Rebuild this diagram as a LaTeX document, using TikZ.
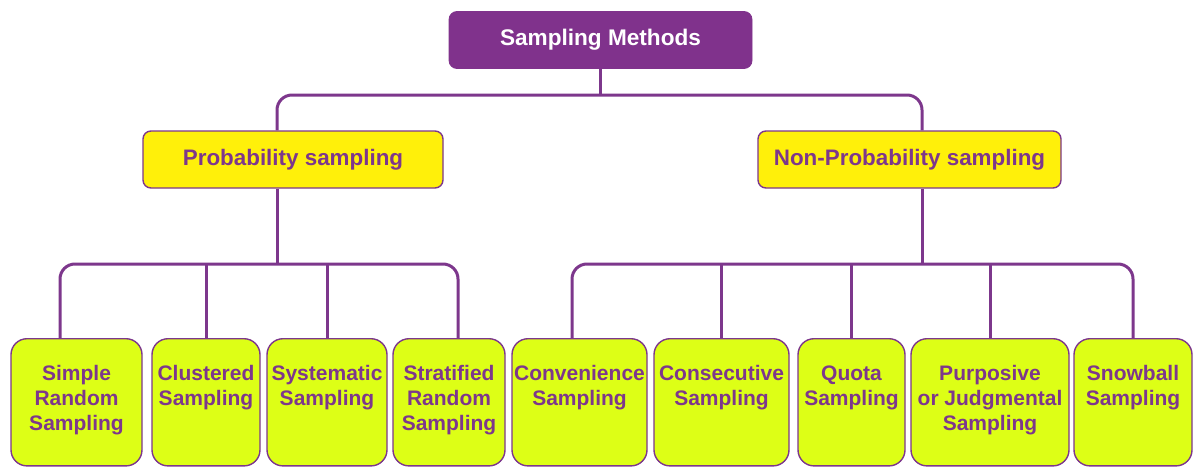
\documentclass[tikz,border=0pt]{standalone}
\usepackage{fontspec}
\setmainfont{Liberation Sans}
\definecolor{plum}{RGB}{128,50,140}
\definecolor{ink}{RGB}{125,55,140}
\definecolor{sun}{RGB}{255,240,10}
\definecolor{lime}{RGB}{221,255,22}
\newcommand{\methtext}[1]{\begin{tabular}[t]{@{}c@{}}#1\end{tabular}}

\begin{document}
\begin{tikzpicture}[x=0.5pt,y=-0.5pt]
\tikzstyle{root}=[draw=plum,fill=plum,rounded corners=4pt,minimum height=28.5pt,text=white,font=\bfseries\fontsize{11.3}{13}\selectfont];
\tikzstyle{kind}=[draw=ink,fill=sun,line width=0.7pt,rounded corners=4pt,minimum height=28.5pt,text=ink,font=\bfseries\fontsize{11.2}{13}\selectfont];
\tikzstyle{meth}=[draw=ink,fill=lime,line width=0.7pt,rounded corners=8pt,anchor=north,inner xsep=0pt,inner ysep=0pt,text height=21pt,text depth=42.6pt,text=ink,font=\bfseries\fontsize{10.5}{12.5}\selectfont];
\tikzstyle{link}=[draw=ink,line width=1.5pt,rounded corners=7.5pt];

\useasboundingbox (0,0) rectangle (1193,466);

\node [root,minimum width=151.5pt] (top) at (600.5,40) {Sampling Methods};

\node [kind,minimum width=150pt] (prob) at (293,159.5) {Probability sampling};
\node [kind,minimum width=151.5pt] (nonp) at (909.5,159.5) {Non-Probability sampling};

\node [meth,minimum width=65.5pt] (srs) at (76.5,338) {\methtext{Simple\\Random\\Sampling}};
\node [meth,minimum width=54pt] (clu) at (206,338) {\methtext{Clustered\\Sampling}};
\node [meth,minimum width=60pt] (sys) at (327,338) {\methtext{Systematic\\Sampling}};
\node [meth,minimum width=56pt] (str) at (449,338) {\methtext{Stratified\\Random\\Sampling}};

\node [meth,minimum width=67.5pt] (con) at (579.5,338) {\methtext{Convenience\\Sampling}};
\node [meth,minimum width=67.5pt] (cns) at (721.5,338) {\methtext{Consecutive\\Sampling}};
\node [meth,minimum width=53.5pt] (quo) at (851.5,338) {\methtext{Quota\\Sampling}};
\node [meth,minimum width=79pt] (pur) at (990,338) {\methtext{Purposive\\or Judgmental\\Sampling}};
\node [meth,minimum width=59pt] (snw) at (1133,338) {\methtext{Snowball\\Sampling}};

% bus lines and stems
\coordinate (b1) at (0,95);
\coordinate (b2) at (0,264);
\coordinate (pk) at (277,0);
\coordinate (nk) at (922,0);
\coordinate (sk) at (60,0);
\coordinate (tk) at (458,0);
\coordinate (ck) at (572,0);

\draw [link] (top.south) -- (top.south |- b1);
\draw [link] (pk |- prob.north) |- (b1 -| nk) -- (nk |- nonp.north);

\draw [link] (pk |- prob.south) -- (pk |- b2);
\draw [link] (sk |- srs.north) |- (b2 -| tk) -- (tk |- str.north);
\foreach \m in {clu,sys}
  \draw [link] (\m.north) -- (\m.north |- b2);

\draw [link] (nk |- nonp.south) -- (nk |- b2);
\draw [link] (ck |- con.north) |- (b2 -| snw.north) -- (snw.north);
\foreach \m in {cns,quo,pur}
  \draw [link] (\m.north) -- (\m.north |- b2);
\end{tikzpicture}
\end{document}
